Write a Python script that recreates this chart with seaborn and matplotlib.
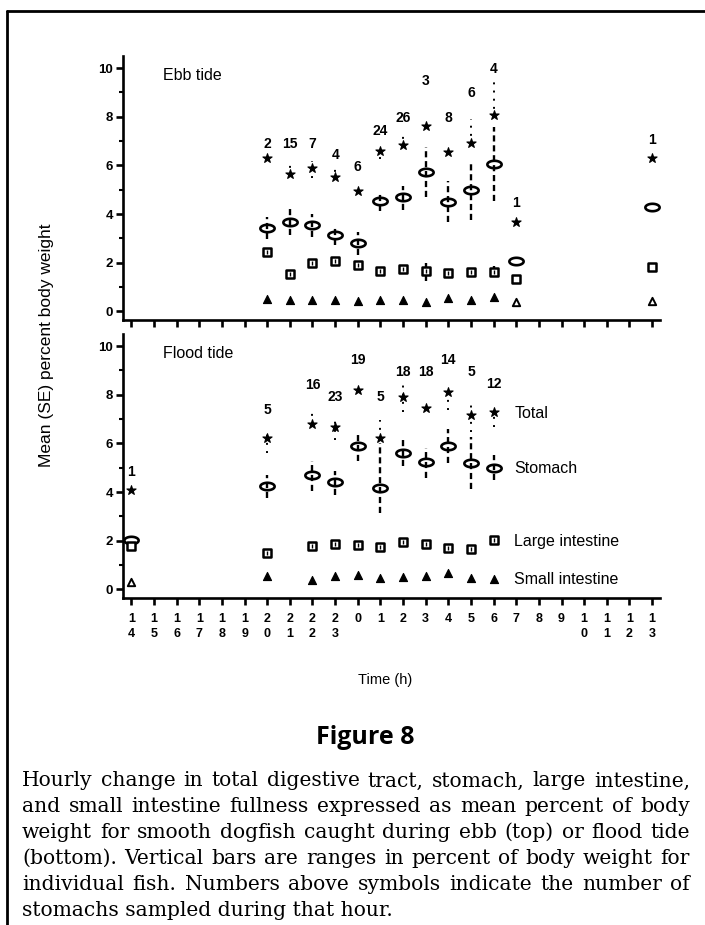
import numpy as np
import pandas as pd
import matplotlib
matplotlib.use("Agg")
import matplotlib.pyplot as plt
import seaborn as sns
from matplotlib.path import Path
from matplotlib.lines import Line2D

nan = np.nan

# ---------------- data ----------------
hours = [14, 15, 16, 17, 18, 19, 20, 21, 22, 23, 0, 1, 2, 3, 4, 5, 6, 7, 8, 9, 10, 11, 12, 13]
hour_tick_labels = ["\n".join(str(h)) for h in hours]

ebb_hours = [20, 21, 22, 23, 0, 1, 2, 3, 4, 5, 6, 7, 13]
ebb_n = [2, 15, 7, 4, 6, 24, 26, 3, 8, 6, 4, 1, 1]
ebb_total = [6.32, 5.63, 5.88, 5.51, 4.97, 6.60, 6.83, 7.64, 6.56, 6.92, 8.08, 3.68, 6.32]
ebb_stomach = [3.43, 3.68, 3.54, 3.15, 2.82, 4.54, 4.72, 5.72, 4.51, 5.00, 6.07, 2.08, 4.28]
ebb_large = [2.43, 1.55, 1.99, 2.08, 1.90, 1.67, 1.76, 1.67, 1.57, 1.63, 1.63, 1.35, 1.81]
ebb_small = [0.53, 0.49, 0.49, 0.47, 0.43, 0.49, 0.49, 0.39, 0.55, 0.49, 0.58, 0.39, 0.45]
ebb_total_lo = [nan, 5.55, 5.49, 5.40, nan, 6.25, 6.75, nan, nan, 6.90, 8.00, nan, nan]
ebb_total_hi = [nan, 6.05, 6.18, 5.95, nan, 6.85, 7.36, nan, nan, 7.90, 9.50, nan, nan]
ebb_stomach_lo = [2.99, 3.13, 3.05, 2.74, 2.33, 4.13, 4.17, 4.72, 3.68, 3.78, 4.55, nan, nan]
ebb_stomach_hi = [3.89, 4.24, 4.00, 3.47, 3.26, 4.93, 5.14, 6.76, 5.35, 6.11, 7.57, nan, nan]
ebb_large_lo = [nan, nan, nan, nan, nan, nan, nan, 1.25, nan, nan, 1.40, nan, nan]
ebb_large_hi = [nan, nan, nan, nan, nan, nan, nan, 1.99, nan, nan, 1.88, nan, nan]
ebb_n_label_at = [6.88, 6.90, 6.90, 6.42, 5.95, 7.43, 7.95, 9.49, 7.96, 8.99, 9.97, 4.47, 7.05]

flood_hours = [14, 20, 22, 23, 0, 1, 2, 3, 4, 5, 6]
flood_n = [1, 5, 16, 23, 19, 5, 18, 18, 14, 5, 12]
flood_total = [4.10, 6.22, 6.79, 6.67, 8.20, 6.24, 7.90, 7.47, 8.10, 7.17, 7.31]
flood_stomach = [2.02, 4.26, 4.71, 4.41, 5.90, 4.17, 5.60, 5.22, 5.90, 5.19, 5.01]
flood_large = [1.80, 1.48, 1.78, 1.87, 1.84, 1.75, 1.95, 1.87, 1.71, 1.67, 2.02]
flood_small = [0.30, 0.55, 0.41, 0.55, 0.59, 0.48, 0.52, 0.57, 0.68, 0.48, 0.45]
flood_total_lo = [nan, 5.61, 6.79, 6.15, nan, 6.24, 7.30, nan, 7.38, 6.49, 6.67]
flood_total_hi = [nan, 6.56, 7.38, 7.05, nan, 6.97, 8.48, nan, 8.10, 7.68, 7.38]
flood_stomach_lo = [nan, 3.76, 4.03, 3.89, 5.26, 3.14, 5.08, 4.58, 5.19, 4.13, 4.51]
flood_stomach_hi = [nan, 4.71, 5.26, 4.85, 6.49, 6.01, 6.15, 5.81, 6.59, 6.28, 5.53]
flood_n_label_at = [4.81, 7.38, 8.40, 7.90, 9.43, 7.90, 8.95, 8.95, 9.43, 8.95, 8.43]

series_names = ["Total", "Stomach", "Large intestine", "Small intestine"]
panel_titles = ["Ebb tide", "Flood tide"]
y_label = "Mean (SE) percent body weight"
x_label = "Time (h)"
fig_title = "Figure 8"
caption_lines = [
    "Hourly change in total digestive tract, stomach, large intestine,",
    "and small intestine fullness expressed as mean percent of body",
    "weight for smooth dogfish caught during ebb (top) or flood tide",
    "(bottom).  Vertical bars are ranges in percent of body weight for",
    "individual fish.  Numbers above symbols indicate the number of",
    "stomachs sampled during that hour.",
]


def panel_frame(hrs, n, total, stomach, large, small, tlo, thi, slo, shi, nlab,
                llo=None, lhi=None):
    df = pd.DataFrame({
        "pos": [hours.index(h) for h in hrs], "n": n, "total": total,
        "stomach": stomach, "large": large, "small": small,
        "tlo": tlo, "thi": thi, "slo": slo, "shi": shi, "nlab": nlab,
    })
    df["llo"] = llo if llo is not None else nan
    df["lhi"] = lhi if lhi is not None else nan
    return df


ebb = panel_frame(ebb_hours, ebb_n, ebb_total, ebb_stomach, ebb_large, ebb_small,
                  ebb_total_lo, ebb_total_hi, ebb_stomach_lo, ebb_stomach_hi,
                  ebb_n_label_at, ebb_large_lo, ebb_large_hi)
flood = panel_frame(flood_hours, flood_n, flood_total, flood_stomach, flood_large,
                    flood_small, flood_total_lo, flood_total_hi, flood_stomach_lo,
                    flood_stomach_hi, flood_n_label_at)

# ---------------- style ----------------
sns.set_theme(style="ticks")
plt.rcParams["font.family"] = ["Liberation Sans", "DejaVu Sans"]
for key in ["text.color", "axes.labelcolor", "xtick.color", "ytick.color",
            "axes.edgecolor"]:
    plt.rcParams[key] = "black"

t = np.linspace(0, 2 * np.pi, 72)
ellipse_marker = Path(np.column_stack([np.cos(t), 0.52 * np.sin(t)]), closed=True)

W, H = 705, 925
fig = plt.figure(figsize=(W / 100, H / 100), dpi=100)
ax_top = fig.add_axes([123 / W, 1 - 320 / H, 537 / W, 264 / H])
ax_bot = fig.add_axes([123 / W, 1 - 598 / H, 537 / W, 264 / H])


def draw_panel(ax, df, title):
    # range bars
    d = df.dropna(subset=["slo"])
    ax.vlines(d["pos"], d["slo"], d["shi"], colors="black", linewidth=1.7,
              linestyles=(0, (2.6, 1.6)), zorder=4)
    d = df.dropna(subset=["tlo"])
    ax.vlines(d["pos"], d["tlo"], d["thi"], colors="black", linewidth=1.4,
              linestyles=(0, (1.0, 3.2)), zorder=4)
    d = df.dropna(subset=["llo"])
    ax.vlines(d["pos"], d["llo"], d["lhi"], colors="black", linewidth=1.7,
              zorder=4)

    sns.scatterplot(data=df, x="pos", y="total", ax=ax, marker="*", s=48,
                    color="black", edgecolor="black", linewidth=0.8, zorder=5)
    sns.scatterplot(data=df, x="pos", y="stomach", ax=ax, marker=ellipse_marker,
                    s=105, color="white", edgecolor="black", linewidth=1.9, zorder=3)
    sns.scatterplot(data=df, x="pos", y="large", ax=ax, marker="s", s=28,
                    color="white", edgecolor="black", linewidth=1.8, zorder=5)
    many = df[df["n"] > 1]
    ax.scatter(many["pos"], many["large"], marker="|", s=8, color="black",
               linewidth=1.0, zorder=6)
    sns.scatterplot(data=many, x="pos", y="small", ax=ax, marker="^", s=34,
                    color="black", edgecolor="black", linewidth=0.8, zorder=5)
    one = df[df["n"] == 1]
    sns.scatterplot(data=one, x="pos", y="small", ax=ax, marker="^", s=28,
                    color="white", edgecolor="black", linewidth=1.4, zorder=5)

    for _, r in df.iterrows():
        ax.text(r["pos"], r["nlab"], str(int(r["n"])), ha="center", va="center",
                fontsize=10, fontweight="bold", zorder=6)

    ax.text(0.0745, 0.928, title, transform=ax.transAxes, fontsize=11.5,
            ha="left", va="center")

    ax.set_xlim(-0.37, 23.35)
    ax.set_ylim(-0.35, 10.5)
    ax.set_xticks(range(len(hours)))
    ax.set_yticks([0, 2, 4, 6, 8, 10])
    ax.set_yticks([1, 3, 5, 7, 9], minor=True)
    ax.set_xlabel("")
    ax.set_ylabel("")
    for side in ["top", "right"]:
        ax.spines[side].set_visible(False)
    for side in ["left", "bottom"]:
        ax.spines[side].set_linewidth(1.9)
        ax.spines[side].set_color("black")
    ax.tick_params(axis="both", which="major", direction="out", length=5,
                   width=1.9, color="black", labelcolor="black", labelsize=9.5, pad=2)
    ax.tick_params(axis="y", which="minor", direction="out", length=3,
                   width=1.5, color="black")
    for lab in ax.get_yticklabels():
        lab.set_fontweight("bold")
    ax.set_facecolor("white")


draw_panel(ax_top, ebb, panel_titles[0])
draw_panel(ax_bot, flood, panel_titles[1])

ax_top.tick_params(axis="x", labelbottom=False)
ax_bot.set_xticklabels(hour_tick_labels, fontsize=9, fontweight="bold",
                       linespacing=1.25)
ax_bot.tick_params(axis="x", pad=6)

# series labels beside the last flood-tide hour
last = flood.iloc[-1]
for name, col in zip(series_names, ["total", "stomach", "large", "small"]):
    ax_bot.annotate(name, (last["pos"], last[col]), xytext=(15, -1),
                    textcoords="offset points", ha="left", va="center", fontsize=11.5)

fig.text(47 / W, 1 - 345 / H, y_label, rotation=90, ha="center", va="center",
         fontsize=12.5)
fig.text(385 / W, 1 - 680 / H, x_label, ha="center", va="center", fontsize=10.5)
fig.text(365 / W, 1 - 737 / H, fig_title, ha="center", va="center", fontsize=18,
         fontweight="bold", family=["Open Sans", "DejaVu Sans"])

# page frame lines
fig.add_artist(Line2D([7 / W, 7 / W], [0, 1 - 11 / H], transform=fig.transFigure,
                      color="black", linewidth=2))
fig.add_artist(Line2D([7 / W, 1], [1 - 11 / H, 1 - 11 / H], transform=fig.transFigure,
                      color="black", linewidth=2))

# justified caption
fig.canvas.draw()
renderer = fig.canvas.get_renderer()
left_px, right_px = 22, 690
cap_font = dict(family=["DejaVu Serif"], fontsize=14.6, va="center", ha="left",
                color="black")
for i, line in enumerate(caption_lines):
    y = 1 - (781 + 25.8 * i) / H
    if i == len(caption_lines) - 1:
        fig.text(left_px / W, y, line, **cap_font)
        continue
    words = line.split()
    texts = [fig.text(0, y, w_, **cap_font) for w_ in words]
    widths = [tx.get_window_extent(renderer).width for tx in texts]
    gap = (right_px - left_px - sum(widths)) / (len(words) - 1)
    x = left_px
    for tx, wd in zip(texts, widths):
        tx.set_x(x / W)
        x += wd + gap

fig.savefig("out.png", dpi=100, facecolor="white")
